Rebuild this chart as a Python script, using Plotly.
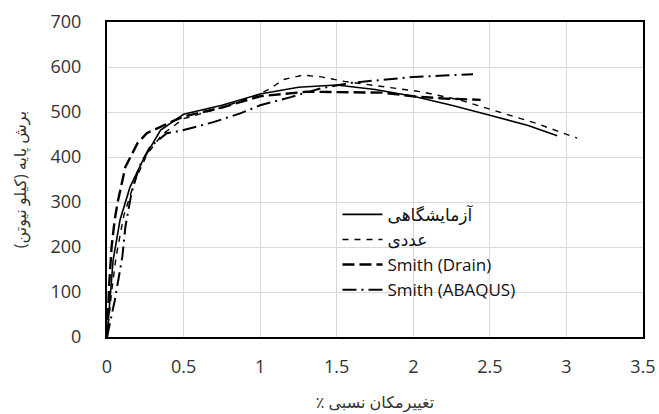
import plotly.graph_objects as go

exp_x = [0, 0.02, 0.04, 0.085, 0.15, 0.235, 0.35, 0.5, 0.75, 1.0, 1.25, 1.5, 1.75, 2.0, 2.25, 2.5, 2.75, 2.94]
exp_y = [0, 90, 171, 260, 333, 393, 460, 495, 515, 540, 555, 560, 550, 535, 515, 493, 470, 447]

num_x = [0, 0.03, 0.06, 0.11, 0.18, 0.26, 0.36, 0.5, 0.75, 1.0, 1.08, 1.15, 1.28, 1.4, 1.55, 1.8, 2.05, 2.3, 2.58, 2.8, 3.07]
num_y = [0, 100, 180, 270, 345, 405, 450, 485, 510, 540, 555, 572, 582, 578, 568, 556, 545, 527, 498, 475, 442]

drain_x = [0, 0.015, 0.03, 0.05, 0.07, 0.12, 0.2, 0.26, 0.4, 0.5, 0.75, 1.0, 1.3, 1.65, 1.8, 2.0, 2.2, 2.44]
drain_y = [0, 120, 200, 260, 300, 378, 431, 453, 475, 490, 510, 535, 545, 543, 543, 535, 530, 527]

abq_x = [0, 0.05, 0.1, 0.12, 0.16, 0.21, 0.28, 0.39, 0.48, 0.7, 0.87, 1.0, 1.2, 1.4, 1.6, 1.75, 2.0, 2.2, 2.39]
abq_y = [0, 80, 178, 245, 320, 378, 422, 453, 458, 478, 497, 515, 533, 553, 565, 570, 578, 581, 584]

names = ["آزمایشگاهی", "عددی", "Smith (Drain)", "Smith (ABAQUS)"]
x_ticks = [0, 0.5, 1, 1.5, 2, 2.5, 3, 3.5]
y_ticks = [0, 100, 200, 300, 400, 500, 600, 700]

fig = go.Figure()
fig.add_trace(go.Scatter(x=exp_x, y=exp_y, mode="lines", name=names[0],
                         line=dict(color="black", width=1.6, dash="solid")))
fig.add_trace(go.Scatter(x=num_x, y=num_y, mode="lines", name=names[1],
                         line=dict(color="black", width=1.4, dash="6px,6px")))
fig.add_trace(go.Scatter(x=drain_x, y=drain_y, mode="lines", name=names[2],
                         line=dict(color="black", width=2.4, dash="12px,5px")))
fig.add_trace(go.Scatter(x=abq_x, y=abq_y, mode="lines", name=names[3],
                         line=dict(color="black", width=2, dash="14px,5px,2px,5px")))

fig.update_layout(
    width=659, height=414,
    margin=dict(l=107, r=16, t=22, b=77),
    paper_bgcolor="white", plot_bgcolor="white",
    font=dict(family="Open Sans, DejaVu Sans", size=18, color="#333"),
    showlegend=True,
    legend=dict(x=0.43, y=0.445, xanchor="left", yanchor="top",
                bgcolor="rgba(0,0,0,0)", font=dict(size=17, color="#111"),
                tracegroupgap=0, itemwidth=40),
    xaxis=dict(range=[0, 3.5], tickvals=x_ticks, ticktext=[str(v) for v in x_ticks],
               showgrid=True, gridcolor="#d9d9d9", gridwidth=1,
               showline=True, linecolor="black", linewidth=2, mirror=True,
               ticks="outside", ticklen=12, tickcolor="rgba(0,0,0,0)",
               zeroline=False, automargin=False,
               title=dict(text="٪ تغییرمکان نسبی", font=dict(size=16), standoff=20)),
    yaxis=dict(range=[0, 700], tickvals=y_ticks,
               showgrid=True, gridcolor="#d9d9d9", gridwidth=1,
               showline=True, linecolor="black", linewidth=2, mirror=True,
               ticks="outside", ticklen=20, tickcolor="rgba(0,0,0,0)",
               zeroline=False, automargin=False,
               title=dict(text="برش پایه (کیلو نیوتن)", font=dict(size=16), standoff=20)),
)

fig.write_html("out.html")
